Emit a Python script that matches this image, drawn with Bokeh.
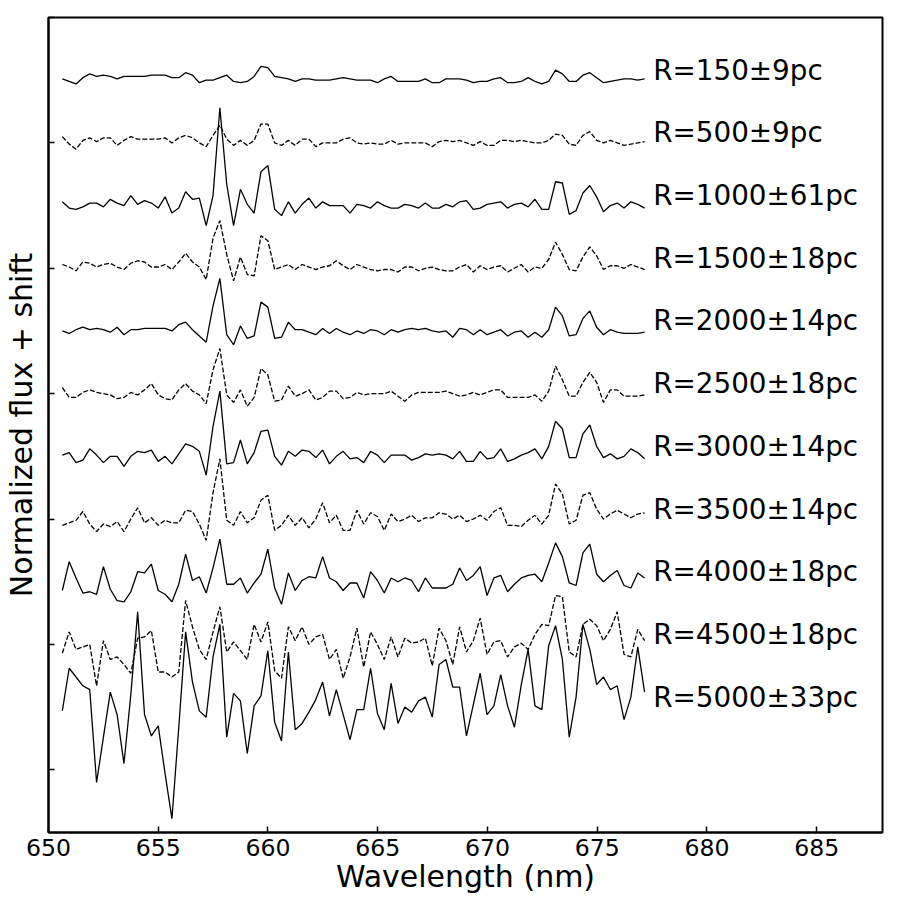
import numpy as np
from bokeh.plotting import figure
from bokeh.models import FixedTicker, CustomJSTickFormatter, Range1d
from bokeh.embed import file_html
from bokeh.resources import INLINE
from bokeh.core.properties import value

# ---------------- data ----------------
# wavelength sampling grid (nm)
wl_first, wl_last, n_pix = 650.63, 677.16, 86

labels = ["R=150\u00b19pc", "R=500\u00b19pc", "R=1000\u00b161pc", "R=1500\u00b118pc",
          "R=2000\u00b114pc", "R=2500\u00b118pc", "R=3000\u00b114pc", "R=3500\u00b114pc",
          "R=4000\u00b118pc", "R=4500\u00b118pc", "R=5000\u00b133pc"]

# normalized flux, in percent of the continuum
f150 = [101, 99, 97, 102, 105, 103, 104, 103, 101, 103,
        103, 103, 103, 104, 104, 104, 102, 102, 106, 104,
        98, 100, 100, 102, 104, 99, 98, 99, 103, 111,
        110, 103, 102, 101, 99, 101, 101, 100, 100, 100,
        101, 102, 101, 100, 100, 100, 98, 101, 103, 99,
        99, 99, 99, 101, 98, 98, 101, 101, 101, 100,
        98, 99, 99, 101, 102, 98, 98, 99, 102, 99,
        97, 99, 108, 105, 99, 99, 104, 106, 102, 98,
        99, 100, 101, 101, 100, 101]
f500 = [105, 99, 95, 102, 104, 101, 104, 104, 98, 102,
        105, 103, 103, 103, 103, 104, 100, 104, 106, 104,
        100, 97, 106, 114, 103, 98, 102, 98, 102, 115,
        115, 100, 98, 102, 98, 103, 103, 97, 100, 100,
        100, 103, 104, 100, 99, 100, 99, 99, 102, 99,
        100, 100, 100, 100, 97, 101, 102, 101, 102, 100,
        98, 101, 98, 98, 102, 102, 101, 102, 101, 100,
        100, 102, 107, 106, 99, 98, 106, 109, 102, 100,
        102, 100, 98, 99, 100, 101]
f1000 = [103, 98, 97, 99, 102, 102, 99, 105, 102, 100,
         108, 101, 104, 102, 98, 107, 94, 98, 111, 105,
         106, 84, 108, 178, 117, 84, 113, 101, 94, 127,
         132, 97, 92, 103, 94, 101, 106, 98, 103, 100,
         100, 100, 94, 101, 100, 98, 103, 100, 98, 98,
         101, 100, 98, 102, 98, 98, 101, 99, 103, 104,
         97, 98, 101, 102, 103, 98, 101, 102, 99, 105,
         97, 97, 119, 118, 93, 96, 110, 116, 107, 95,
         100, 102, 98, 103, 101, 98]
f1500 = [103, 101, 98, 105, 104, 101, 103, 104, 101, 99,
         104, 106, 105, 101, 101, 103, 99, 105, 112, 105,
         101, 91, 124, 138, 111, 90, 109, 95, 94, 126,
         122, 99, 101, 103, 99, 103, 101, 99, 101, 102,
         106, 102, 99, 103, 101, 99, 98, 99, 99, 97,
         101, 101, 98, 100, 101, 99, 98, 98, 101, 103,
         97, 102, 99, 101, 102, 97, 100, 103, 97, 101,
         100, 107, 121, 111, 99, 98, 109, 117, 110, 99,
         102, 102, 100, 103, 101, 99]
f2000 = [100, 98, 101, 103, 101, 102, 101, 99, 103, 97,
         101, 101, 102, 102, 102, 102, 100, 105, 107, 101,
         96, 91, 120, 142, 97, 89, 104, 94, 96, 123,
         119, 94, 95, 107, 101, 101, 99, 97, 102, 98,
         102, 99, 97, 100, 98, 101, 100, 97, 101, 99,
         101, 102, 101, 102, 100, 99, 100, 95, 102, 101,
         97, 101, 97, 99, 101, 96, 99, 100, 95, 99,
         95, 101, 119, 112, 96, 97, 110, 116, 103, 97,
         101, 99, 98, 98, 98, 99]
f2500 = [105, 97, 97, 101, 103, 101, 100, 99, 96, 97,
         101, 99, 103, 108, 99, 96, 95, 103, 108, 102,
         99, 92, 119, 136, 99, 93, 103, 90, 97, 120,
         115, 94, 95, 106, 98, 100, 103, 95, 97, 102,
         102, 96, 97, 101, 99, 100, 100, 100, 102, 98,
         94, 99, 101, 101, 101, 101, 102, 100, 98, 99,
         101, 99, 101, 103, 103, 97, 97, 97, 97, 99,
         94, 102, 122, 111, 98, 98, 109, 117, 109, 93,
         103, 103, 98, 98, 98, 99]
f3000 = [101, 103, 95, 97, 106, 101, 95, 100, 100, 92,
         100, 104, 103, 105, 96, 100, 94, 102, 110, 108,
         104, 85, 124, 152, 94, 95, 113, 94, 103, 120,
         121, 100, 93, 104, 100, 105, 104, 99, 105, 94,
         100, 104, 98, 99, 95, 104, 101, 95, 101, 101,
         101, 97, 99, 102, 101, 102, 101, 98, 104, 96,
         96, 104, 98, 99, 106, 96, 98, 101, 103, 106,
         98, 108, 128, 122, 99, 99, 118, 125, 108, 99,
         102, 98, 100, 106, 103, 98]
f3500 = [95, 97, 99, 106, 96, 90, 96, 94, 98, 90,
         100, 109, 97, 101, 95, 99, 97, 97, 107, 106,
         96, 83, 121, 148, 99, 95, 106, 97, 101, 115,
         119, 91, 95, 103, 95, 101, 93, 100, 113, 97,
         103, 91, 91, 107, 96, 105, 102, 91, 104, 98,
         100, 103, 98, 101, 101, 105, 104, 100, 103, 98,
         100, 103, 99, 106, 109, 95, 95, 94, 99, 103,
         96, 103, 128, 120, 96, 99, 119, 121, 108, 100,
         104, 107, 104, 101, 104, 105]
f4000 = [93, 116, 103, 91, 92, 90, 112, 94, 85, 84,
         92, 108, 107, 114, 93, 90, 84, 98, 122, 101,
         104, 91, 111, 134, 98, 98, 103, 91, 99, 106,
         126, 95, 82, 107, 93, 101, 104, 103, 120, 103,
         100, 93, 99, 99, 87, 108, 101, 91, 103, 100,
         103, 101, 92, 103, 95, 95, 95, 98, 111, 101,
         105, 112, 89, 103, 105, 92, 98, 103, 105, 106,
         100, 115, 131, 120, 99, 97, 123, 130, 106, 100,
         105, 109, 97, 95, 107, 103]
f4500 = [93, 110, 96, 98, 100, 67, 103, 88, 90, 84,
         77, 105, 106, 111, 78, 78, 74, 78, 135, 114,
         96, 88, 110, 130, 94, 102, 95, 88, 116, 102,
         118, 79, 73, 114, 103, 114, 100, 106, 108, 88,
         96, 73, 90, 113, 82, 110, 100, 88, 106, 90,
         105, 101, 102, 105, 83, 113, 103, 84, 114, 94,
         103, 121, 92, 102, 103, 90, 98, 101, 96, 108,
         116, 115, 139, 138, 94, 90, 116, 120, 115, 103,
         112, 126, 92, 90, 112, 103]
f5000 = [97, 131, 124, 117, 114, 40, 76, 112, 94, 55,
         110, 176, 94, 77, 85, 47, 11, 84, 160, 120,
         97, 92, 140, 166, 76, 111, 105, 63, 101, 109,
         145, 88, 73, 144, 82, 87, 96, 106, 120, 93,
         114, 94, 74, 98, 98, 131, 95, 82, 119, 87,
         100, 96, 105, 108, 92, 134, 138, 116, 116, 77,
         102, 127, 94, 101, 126, 101, 84, 118, 146, 101,
         98, 149, 165, 138, 76, 108, 166, 146, 118, 124,
         114, 117, 90, 108, 148, 112]

spectra = [f150, f500, f1000, f1500, f2000, f2500, f3000, f3500, f4000, f4500, f5000]

shift_step = 0.5
x_ticks = [650, 655, 660, 665, 670, 675, 680, 685]
y_ticks = [1, 0, -1, -2, -3, -4, -5]

# ---------------- plot ----------------
wavelength = np.linspace(wl_first, wl_last, n_pix)

FONT = "DejaVu Sans"
p = figure(width=898, height=901,
           x_range=Range1d(650, 688), y_range=Range1d(-5.5, 1.0),
           output_backend="svg", toolbar_location=None,
           min_border_left=47, min_border_right=16,
           min_border_top=17, min_border_bottom=69)

p.background_fill_color = "white"
p.border_fill_color = "white"
p.outline_line_color = "black"
p.outline_line_width = 2
p.xgrid.visible = False
p.ygrid.visible = False

for ax in (p.xaxis, p.yaxis):
    ax.axis_line_color = "black"
    ax.axis_line_width = 2
    ax.major_tick_in = 6
    ax.major_tick_out = 0
    ax.major_tick_line_width = 1.5
    ax.minor_tick_line_color = None
    ax.axis_label_text_font = FONT
    ax.axis_label_text_font_size = "30px"
    ax.axis_label_text_font_style = "normal"
    ax.axis_label_text_color = "black"
    ax.major_label_text_font = FONT
    ax.major_label_text_font_size = "23.6px"
    ax.major_label_text_color = "black"

p.xaxis.ticker = FixedTicker(ticks=x_ticks)
p.xaxis.axis_label = "Wavelength (nm)"
p.xaxis.major_label_standoff = 6
p.xaxis.axis_label_standoff = 0

p.yaxis.ticker = FixedTicker(ticks=y_ticks)
p.yaxis.formatter = CustomJSTickFormatter(code="return ''")
p.yaxis.axis_label = "Normalized flux + shift"
p.yaxis.major_label_standoff = 0
p.yaxis.axis_label_standoff = 10

for k, flux in enumerate(spectra):
    y = np.array(flux) / 100.0 - shift_step * (k + 1)
    p.line(wavelength, y, line_color="black", line_width=1.3,
           line_dash="solid" if k % 2 == 0 else "5 2")

label_x = [677.55] * len(labels)
label_y = [1.0 - shift_step * (k + 1) for k in range(len(labels))]
p.text(x=label_x, y=label_y, text=labels, text_font=value(FONT),
       text_font_size="27.8px", text_color="black",
       text_align="left", text_baseline="alphabetic", y_offset=-10)

open("out.html", "w").write(file_html(p, INLINE))
